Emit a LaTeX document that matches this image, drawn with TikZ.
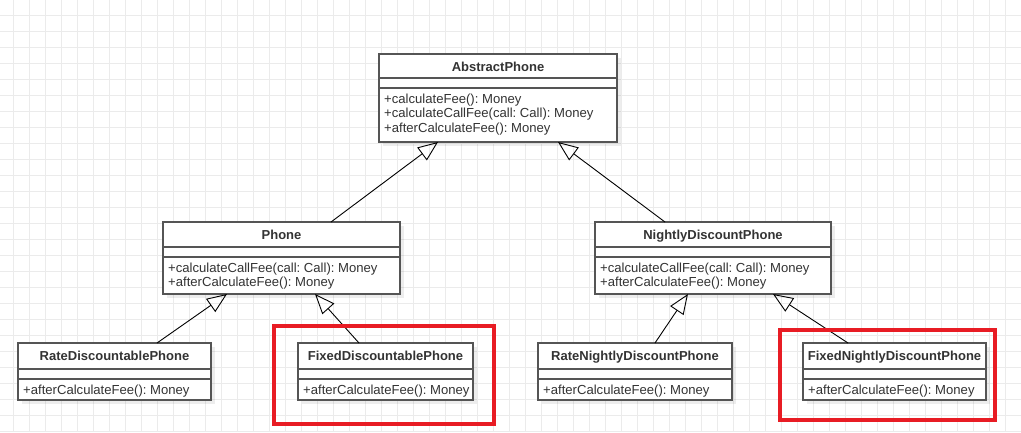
\documentclass[tikz,border=0pt]{standalone}
\usepackage{fontspec}
\setmainfont{Liberation Sans}
\usetikzlibrary{arrows.meta,calc}
\definecolor{gridc}{HTML}{EBEBEB}
\definecolor{boxc}{HTML}{555555}
\definecolor{txtc}{HTML}{333333}
\definecolor{redc}{HTML}{E81C24}
\frenchspacing
\tikzset{
  classbox/.style={draw=boxc, line width=1.5pt, fill=white, inner sep=0pt, outer sep=0pt},
  titletext/.style={font=\fontsize{13}{15}\selectfont\bfseries\frenchspacing, text=txtc, inner sep=0pt, anchor=base},
  methtext/.style={font=\fontsize{13.1}{15}\selectfont\frenchspacing, text=txtc, inner sep=0pt, anchor=base west},
  inherit/.style={draw=black, line width=0.9pt, -{Triangle[open, length=20pt, width=16pt, line width=0.9pt]}},
  highlight/.style={draw=redc, line width=4pt},
}
% #1 name, #2 left, #3 top, #4 right, #5 bottom, #6 first divider, #7 title, #8 methods
\newcommand\umlclass[8]{%
  \fill[black, opacity=0.07] (#2+4,#3+4) rectangle (#4+4,#5+4);
  \node[classbox, minimum width={#4-#2}, minimum height={#5-#3}, anchor=north west] (#1) at (#2,#3) {};
  \node[titletext] (#1-title) at ({(#2+#4)/2},#3+17) {#7};
  \draw[boxc, line width=1.5pt] (#2,#6) -- (#4,#6) (#2,#6+10) -- (#4,#6+10);
  \foreach \m [count=\i] in {#8} {
    \node[methtext] (#1-m\i) at (#2+5,{#6+10+15+(\i-1)*14.7}) {\m};
  }
}
\begin{document}
\begin{tikzpicture}[x=1pt,y=-1pt]
\useasboundingbox (0,0) rectangle (1021,432);
\fill[white] (0,0) rectangle (1021,432);
% grid
\foreach \k in {0,...,63} { \draw[gridc, line width=1pt] ({13.3+16*\k},0) -- ({13.3+16*\k},432); }
\foreach \k in {0,...,26} { \draw[gridc, line width=1pt] (0,{15+16*\k}) -- (1021,{15+16*\k}); }

\umlclass{abstract}{379}{54}{617}{142}{78}{AbstractPhone}{+calculateFee(): Money, +calculateCallFee(call: Call): Money, +afterCalculateFee(): Money}
\umlclass{phone}{163}{222}{400}{294}{247}{Phone}{+calculateCallFee(call: Call): Money, +afterCalculateFee(): Money}
\umlclass{nightly}{595}{222}{831}{294}{247}{NightlyDiscountPhone}{+calculateCallFee(call: Call): Money, +afterCalculateFee(): Money}
\umlclass{rate}{18}{343}{211}{400}{369}{RateDiscountablePhone}{+afterCalculateFee(): Money}
\umlclass{fixed}{298}{343}{473}{400}{369}{FixedDiscountablePhone}{+afterCalculateFee(): Money}
\umlclass{ratenightly}{538}{343}{732}{400}{369}{RateNightlyDiscountPhone}{+afterCalculateFee(): Money}
\umlclass{fixednightly}{803}{343}{986}{400}{369}{FixedNightlyDiscountPhone}{+afterCalculateFee(): Money}

% generalizations
\draw[inherit] ([xshift=168pt]phone.north west) -- ([xshift=59pt]abstract.south west);
\draw[inherit] ([xshift=70pt]nightly.north west) -- ([xshift=179pt]abstract.south west);
\draw[inherit] ([xshift=139pt]rate.north west) -- ([xshift=64pt]phone.south west);
\draw[inherit] ([xshift=61pt]fixed.north west) -- ([xshift=152pt]phone.south west);
\draw[inherit] ([xshift=117pt]ratenightly.north west) -- ([xshift=93pt]nightly.south west);
\draw[inherit] ([xshift=45pt]fixednightly.north west) -- ([xshift=178pt]nightly.south west);

% highlights
\draw[highlight] (274,326) rectangle (493.5,424);
\draw[highlight] (780,330.3) rectangle (995,420.3);
\end{tikzpicture}
\end{document}
